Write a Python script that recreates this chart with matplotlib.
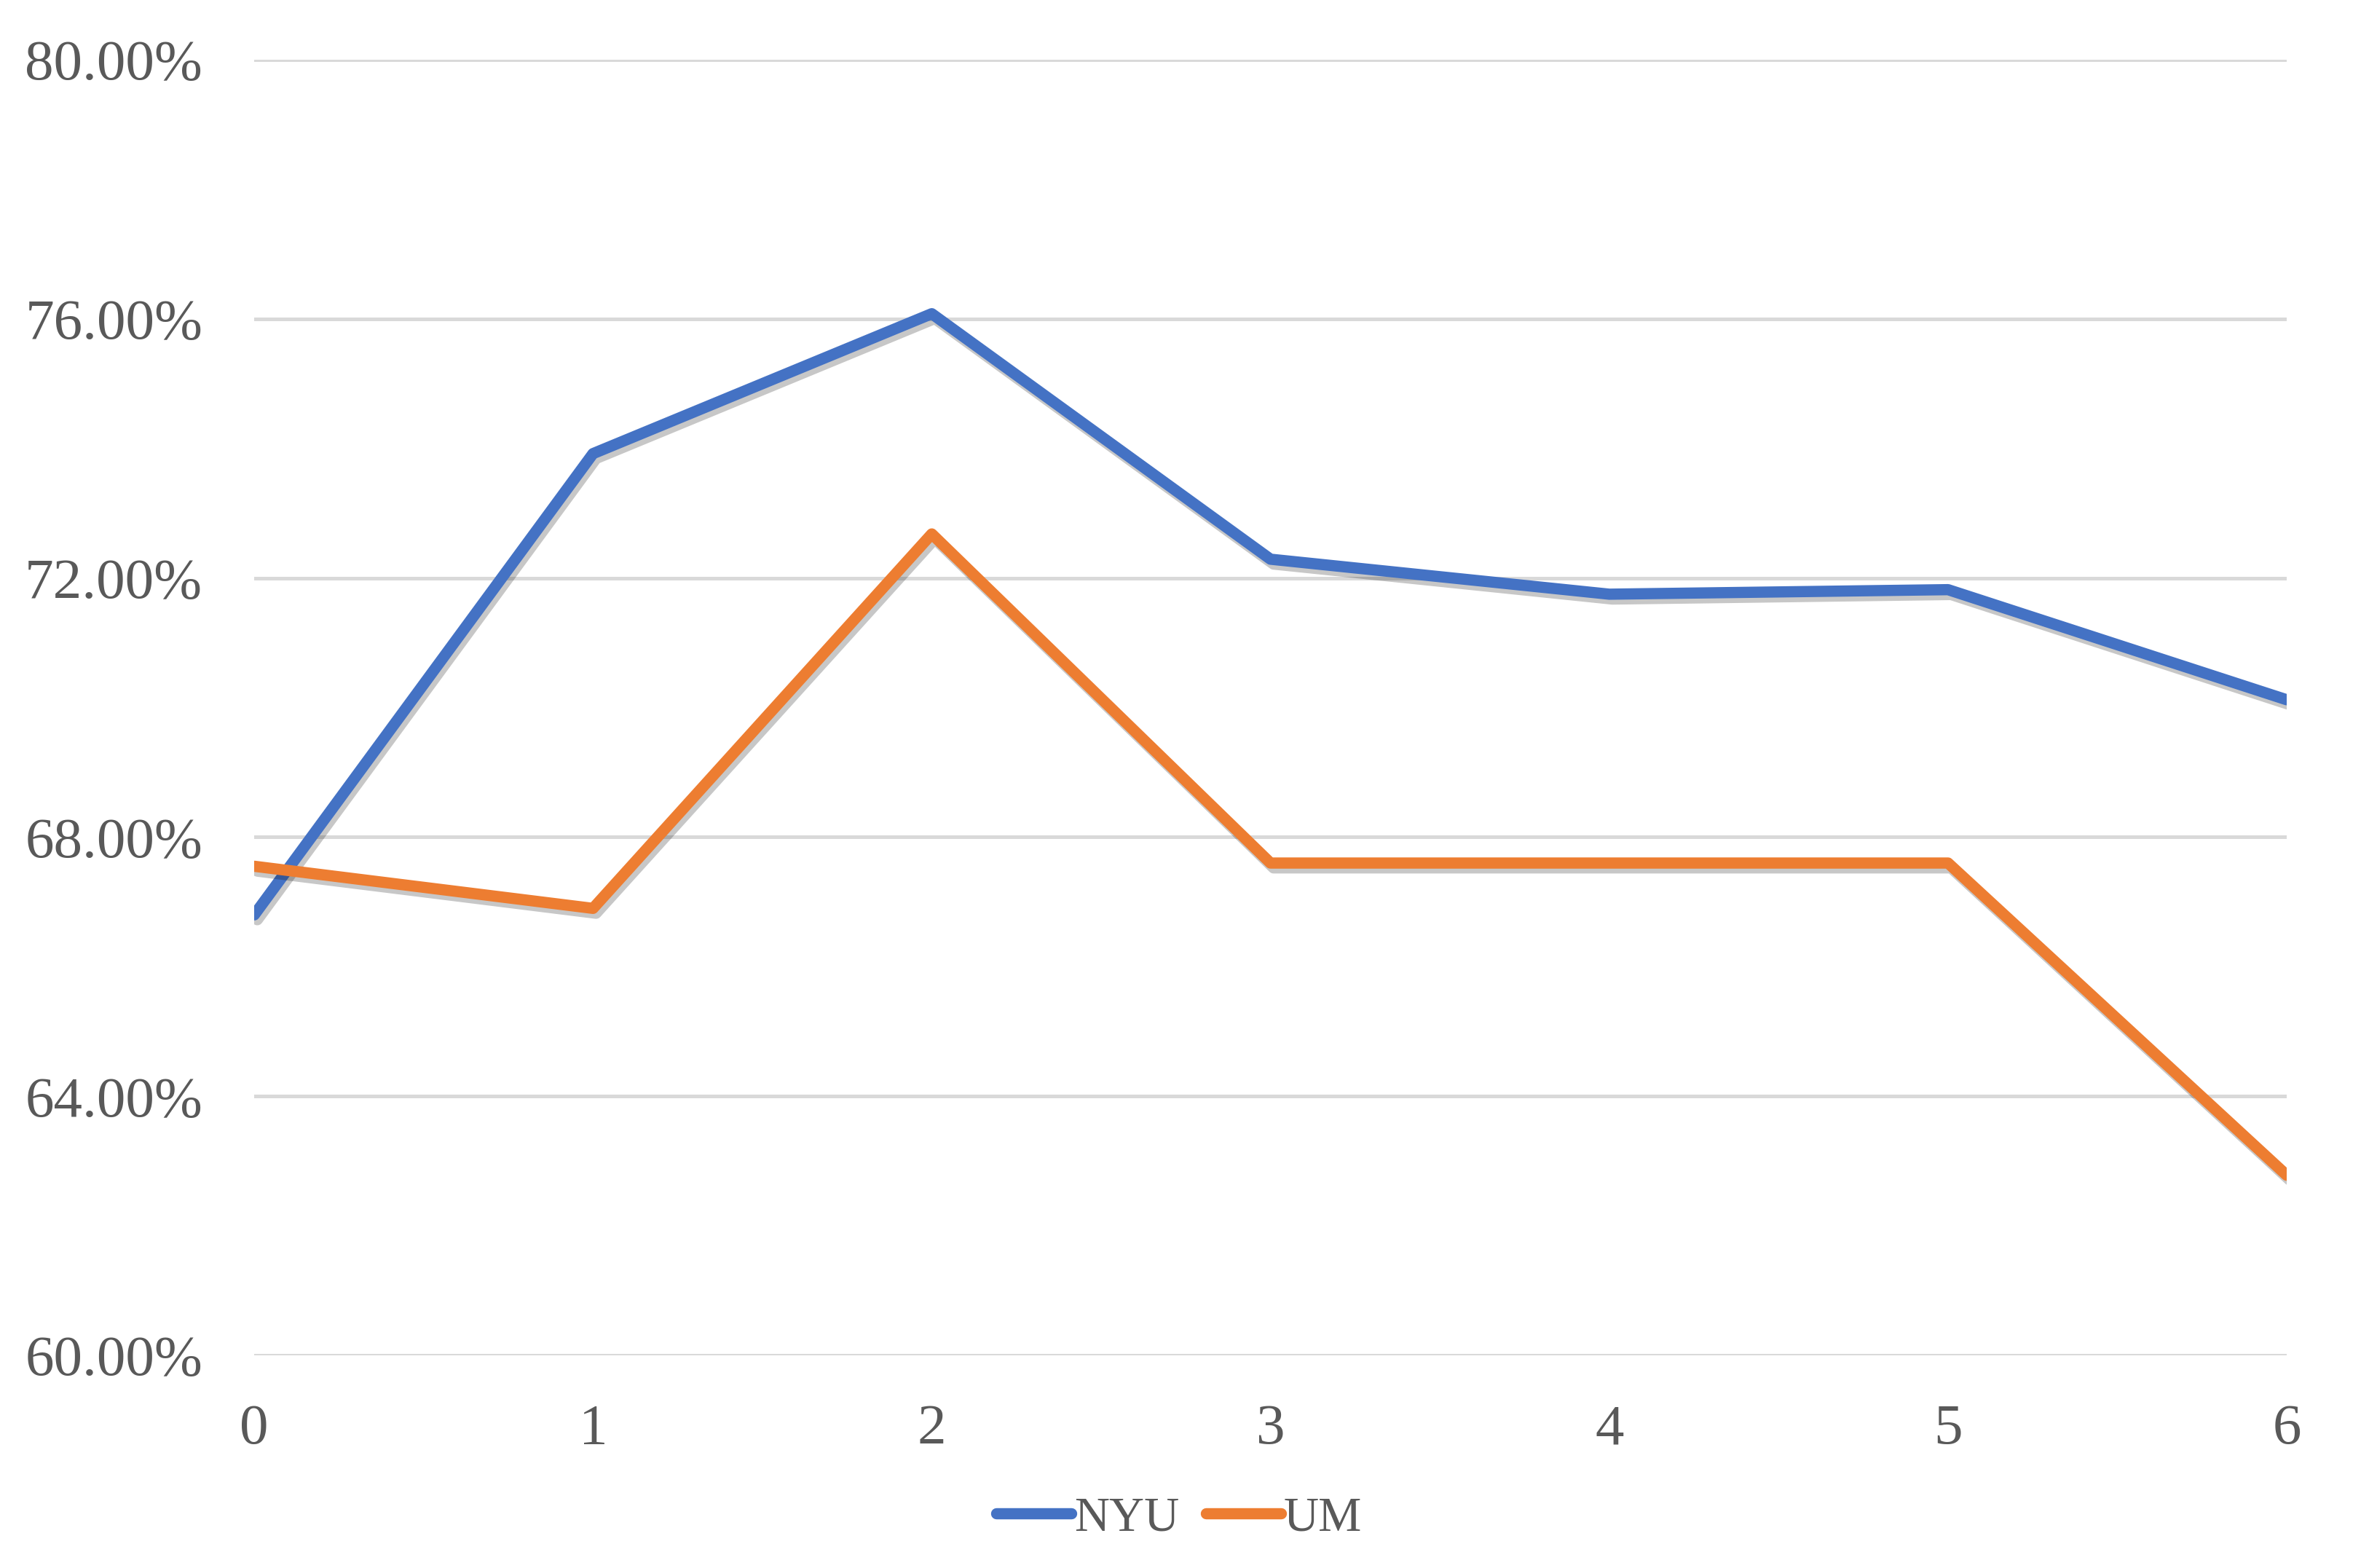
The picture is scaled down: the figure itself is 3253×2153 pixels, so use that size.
import matplotlib
matplotlib.use("Agg")
import matplotlib.pyplot as plt
import matplotlib.patheffects as pe
from matplotlib.ticker import FuncFormatter

x_values = [0, 1, 2, 3, 4, 5, 6]
nyu = [66.80, 73.92, 76.08, 72.29, 71.75, 71.82, 70.12]
um = [67.55, 66.90, 72.68, 67.60, 67.60, 67.60, 62.78]
y_ticks = [60, 64, 68, 72, 76, 80]
series_names = ["NYU", "UM"]

plt.rcParams['font.family'] = ['Liberation Serif', 'DejaVu Serif']

fig = plt.figure(figsize=(3254 / 300, 2153 / 300), dpi=300)
ax = fig.add_axes([0.1073, 0.1356, 0.965 - 0.1073, 0.9619 - 0.1356])

colors = ["#4472C4", "#ED7D31"]
for vals, name, c in zip([nyu, um], series_names, colors):
    ax.plot(x_values, vals, color=c, lw=3.7, label=name,
            solid_capstyle='round', solid_joinstyle='round',
            path_effects=[pe.SimpleLineShadow(offset=(1.0, -1.6), alpha=0.22, rho=0.5),
                          pe.Normal()])

ax.set_xlim(0, 6)
ax.set_ylim(60, 80)
ax.set_yticks(y_ticks)
ax.set_xticks(x_values)
ax.yaxis.set_major_formatter(FuncFormatter(lambda v, p: f"{v:.2f}%"))
ax.grid(axis='y', color='#d9d9d9', lw=1.2)
ax.set_axisbelow(True)
for s in ax.spines.values():
    s.set_visible(False)
ax.tick_params(axis='both', length=0, labelsize=19, labelcolor='#595959')
ax.tick_params(axis='y', pad=17)
ax.tick_params(axis='x', pad=16)

leg = fig.legend(loc='center', bbox_to_anchor=(0.4975, 1 - 2085 / 2153), ncol=2,
                 frameon=False, fontsize=16, handlelength=1.55, handletextpad=0.05,
                 columnspacing=0.55, labelcolor='#595959')
for line in leg.get_lines():
    line.set_linewidth(3.7)
    line.set_solid_capstyle('round')
    line.set_path_effects([])

fig.savefig("out.png", dpi=300, facecolor='white')
